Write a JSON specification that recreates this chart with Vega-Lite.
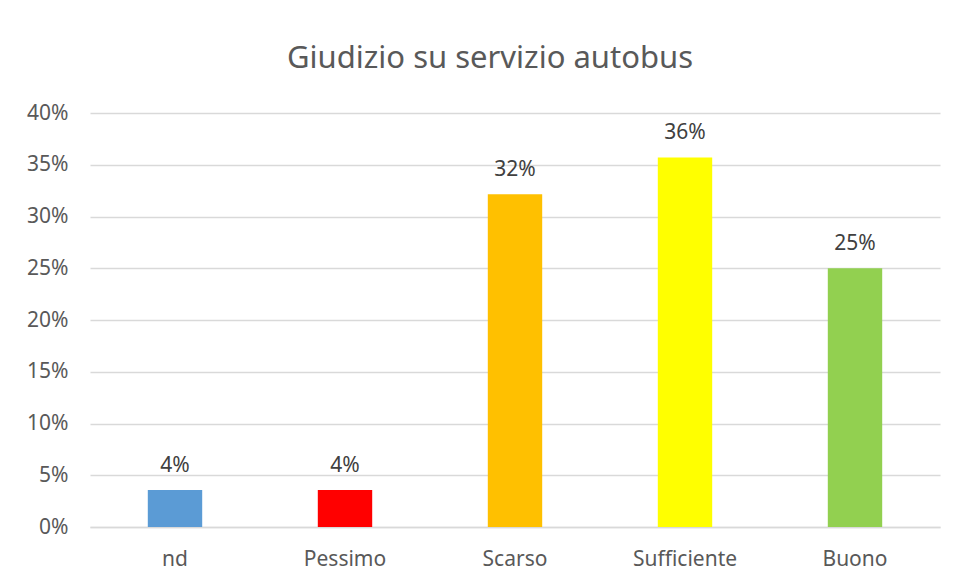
{
  "$schema": "https://vega.github.io/schema/vega-lite/v6.json",
  "autosize": {"type": "none"},
  "width": 850,
  "height": 414,
  "padding": {"left": 90, "top": 113, "right": 17, "bottom": 54},
  "background": "white",
  "title": {
    "text": "Giudizio su servizio autobus",
    "font": "Noto Sans",
    "fontSize": 31,
    "fontWeight": "normal",
    "color": "#595959",
    "anchor": "middle",
    "frame": "group",
    "baseline": "alphabetic",
    "offset": 3,
    "dx": -25
  },
  "config": {
    "view": {"stroke": null},
    "font": "Noto Sans"
  },
  "data": {
    "values": [
      {"giudizio": "nd", "quota": 0.0357, "colore": "#5B9BD5"},
      {"giudizio": "Pessimo", "quota": 0.0357, "colore": "#FF0000"},
      {"giudizio": "Scarso", "quota": 0.3214, "colore": "#FFC000"},
      {"giudizio": "Sufficiente", "quota": 0.3571, "colore": "#FFFF00"},
      {"giudizio": "Buono", "quota": 0.25, "colore": "#92D050"}
    ]
  },
  "encoding": {
    "x": {
      "field": "giudizio",
      "type": "nominal",
      "sort": null,
      "scale": {"paddingInner": 0.68, "paddingOuter": 0.34},
      "axis": {
        "title": null,
        "labelAngle": 0,
        "labelFont": "Noto Sans",
        "labelFontSize": 21,
        "labelColor": "#595959",
        "labelPadding": 21,
        "ticks": false,
        "domainColor": "#D9D9D9",
        "domainWidth": 1.3
      }
    },
    "y": {
      "field": "quota",
      "type": "quantitative",
      "scale": {"domain": [0, 0.4], "nice": false},
      "axis": {
        "title": null,
        "format": ".0%",
        "values": [0, 0.05, 0.1, 0.15, 0.2, 0.25, 0.3, 0.35, 0.4],
        "labelFont": "Noto Sans",
        "labelFontSize": 21,
        "labelColor": "#595959",
        "labelPadding": 22,
        "ticks": false,
        "domain": false,
        "gridColor": "#D9D9D9",
        "gridWidth": 1.3
      }
    }
  },
  "layer": [
    {
      "mark": {"type": "bar"},
      "encoding": {
        "color": {"field": "colore", "type": "nominal", "scale": null}
      }
    },
    {
      "mark": {
        "type": "text",
        "baseline": "alphabetic",
        "dy": -18,
        "font": "Noto Sans",
        "fontSize": 21,
        "color": "#404040"
      },
      "encoding": {
        "text": {"field": "quota", "type": "quantitative", "format": ".0%"}
      }
    }
  ]
}
